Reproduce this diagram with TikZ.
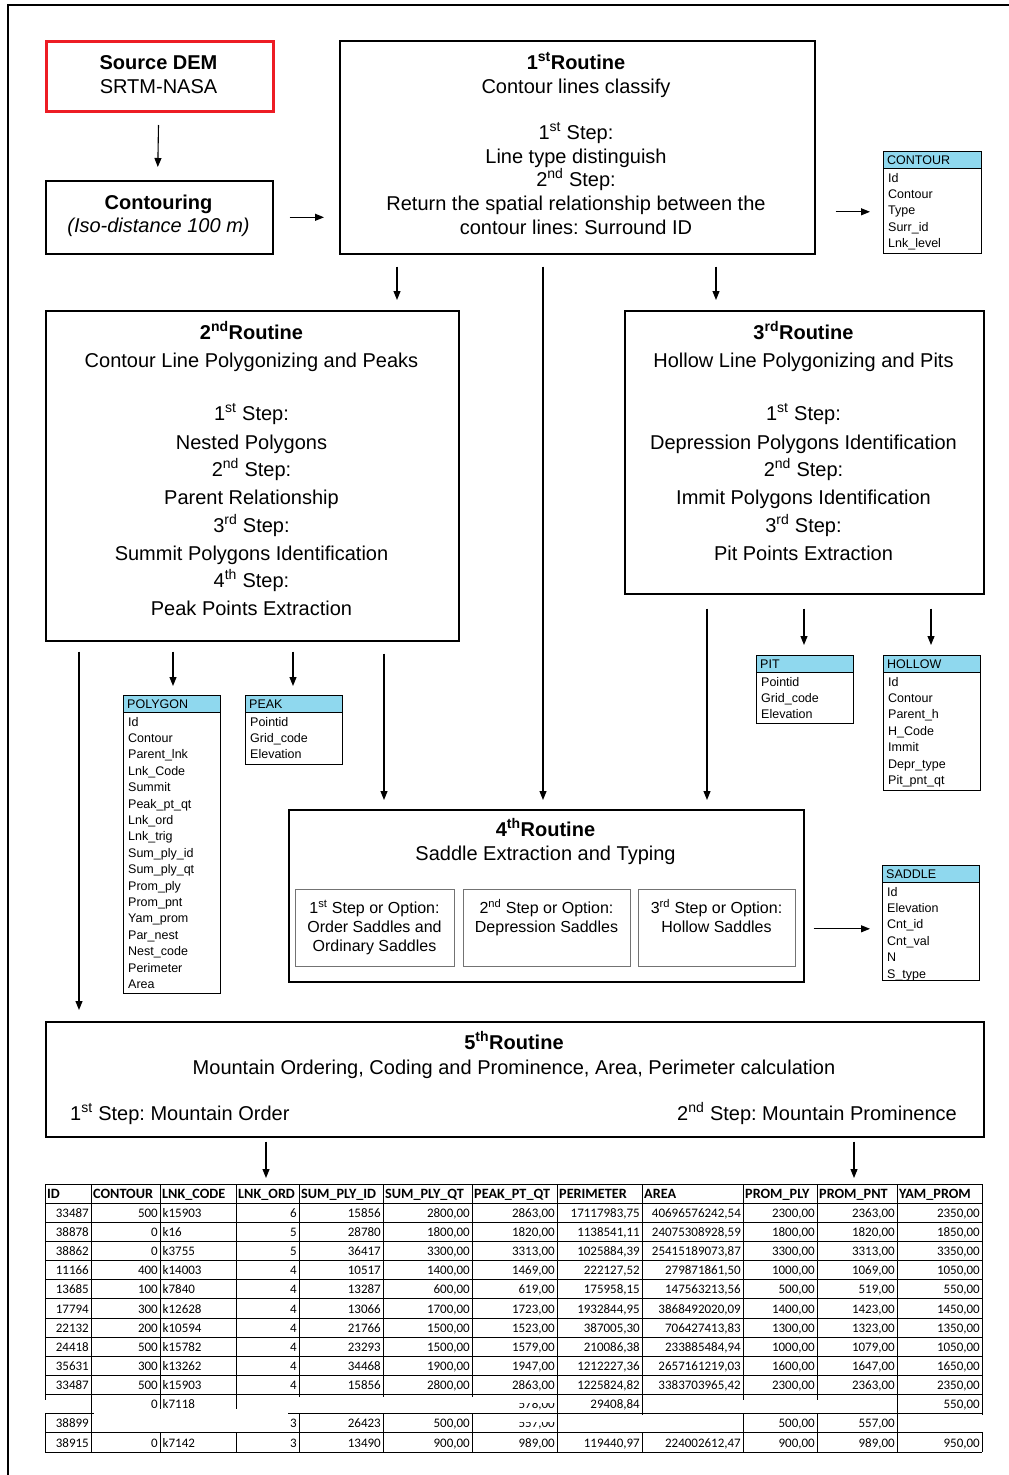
\documentclass[tikz,border=0pt]{standalone}
\usepackage{fontspec}
\setmainfont{Liberation Sans}
\newfontfamily\tabf{Carlito}
\usetikzlibrary{calc,arrows.meta}
\definecolor{hdr}{RGB}{143,216,238}
\definecolor{demred}{RGB}{237,28,36}
\frenchspacing
\newcommand\fbig{\fontsize{20}{24}\selectfont}
\newcommand\fmid{\fontsize{16}{19}\selectfont}
\newcommand\fsml{\fontsize{12.5}{15}\selectfont}
\newcommand\ftab{\tabf\fontsize{13}{15}\selectfont}
\newcommand\fhead{\tabf\bfseries\fontsize{14.2}{16}\selectfont}
\newcommand\schemab[7]{%
  \node[shead, minimum width=#4, anchor=north west] (#1h) at (#2,#3) {};
  \node[stitle] (#1t) at ($(#1h.west)+(4,0)$) {#6};
  \node[sframe, minimum width=#4, minimum height=#5, anchor=north west] (#1) at (#2,#3) {};
  \foreach \r [count=\i] in {#7} {\node[srow] (#1r\i) at (#2+5,#3+31+16.4*\i-16.4) {\r};}
}
\newcommand\trow[2]{%
  \foreach \v [count=\j] in {#2} {
    \pgfmathsetmacro\yb{1184+19.143*#1+14.2}
    \ifnum\j=3
      \node[tcell, anchor=base west] (c#1-\j) at (162.5,\yb) {\v};
    \else
      \pgfmathsetmacro\xr{{91,160,236,299,383,472,557,642,743,817,897,982}[\j-1]-2}
      \node[tcell, anchor=base east] (c#1-\j) at (\xr,\yb) {\v};
    \fi
  }}
\begin{document}
\begin{tikzpicture}[x=1pt,y=-1pt,
  box/.style={draw, line width=1.6, inner sep=0},
  redbox/.style={draw=demred, line width=3, inner sep=0},
  optbox/.style={draw=black!55, line width=0.9, inner sep=0},
  ln/.style={anchor=base, inner sep=0, font=\fbig},
  lnm/.style={anchor=base, inner sep=0, font=\fmid},
  shead/.style={draw, fill=hdr, line width=0.8, minimum height=17, inner sep=0},
  stitle/.style={anchor=west, inner sep=0, font=\fsml},
  sframe/.style={draw, line width=0.9, inner sep=0},
  srow/.style={anchor=base west, inner sep=0, font=\fsml},
  tcell/.style={inner sep=0, font=\ftab},
  thead/.style={anchor=base west, inner sep=0, font=\fhead},
  grid/.style={line width=0.9},
  arr/.style={line width=1.1, -{Triangle[length=9,width=7]}}]
\useasboundingbox (0,0) rectangle (1009,1475);
\fill[white] (0,0) rectangle (1009,1475);
% outer frame
\draw[line width=2] (8,1480) -- (8,5) -- (1015,5);

% boxes
\node[redbox, minimum width=227, minimum height=70, anchor=north west] (src) at (45,40) {};
\node[ln] (srcl1) at (158.5,69) {\textbf{Source DEM}};
\node[ln] (srcl2) at (158.5,93) {SRTM-NASA};

\node[box, minimum width=227, minimum height=73, anchor=north west] (cont) at (45,180) {};
\node[ln] (contl1) at (158.5,209) {\textbf{Contouring}};
\node[ln] (contl2) at (158.5,232) {\textit{(Iso-distance 100 m)}};

\node[box, minimum width=475, minimum height=213, anchor=north west] (r1) at (339,40) {};
\foreach \t/\y [count=\i] in {
  {\textbf{1\textsuperscript{st}Routine}}/62,
  Contour lines classify/86,
  {1\textsuperscript{st} Step:}/132,
  Line type distinguish/156,
  {2\textsuperscript{nd} Step:}/179,
  Return the spatial relationship between the/203,
  contour lines: Surround ID/227}
  \node[ln] (r1l\i) at (576,\y+7) {\t};

\node[box, minimum width=413, minimum height=330, anchor=north west] (r2) at (45,310) {};
\foreach \t/\y [count=\i] in {
  {\textbf{2\textsuperscript{nd}Routine}}/332,
  Contour Line Polygonizing and Peaks/360,
  {1\textsuperscript{st} Step:}/413,
  Nested Polygons/442,
  {2\textsuperscript{nd} Step:}/469,
  Parent Relationship/497,
  {3\textsuperscript{rd} Step:}/525,
  Summit Polygons Identification/553,
  {4\textsuperscript{th} Step:}/580,
  Peak Points Extraction/608}
  \node[ln] (r2l\i) at (251.5,\y+7) {\t};

\node[box, minimum width=359, minimum height=283, anchor=north west] (r3) at (624,310) {};
\foreach \t/\y [count=\i] in {
  {\textbf{3\textsuperscript{rd}Routine}}/332,
  Hollow Line Polygonizing and Pits/360,
  {1\textsuperscript{st} Step:}/413,
  Depression Polygons Identification/442,
  {2\textsuperscript{nd} Step:}/469,
  Immit Polygons Identification/497,
  {3\textsuperscript{rd} Step:}/525,
  Pit Points Extraction/553}
  \node[ln] (r3l\i) at (803.5,\y+7) {\t};

\node[box, minimum width=515, minimum height=172, anchor=north west] (r4) at (288,809) {};
\node[ln] (r4l1) at (545.5,836) {\textbf{4\textsuperscript{th}Routine}};
\node[ln] (r4l2) at (545.5,860) {Saddle Extraction and Typing};
\node[optbox, minimum width=159, minimum height=77, anchor=north west] (o1) at (295,889) {};
\node[optbox, minimum width=167, minimum height=77, anchor=north west] (o2) at (463,889) {};
\node[optbox, minimum width=157, minimum height=77, anchor=north west] (o3) at (638,889) {};
\node[lnm] (o1l1) at (374.5,913.5) {1\textsuperscript{st} Step or Option:};
\node[lnm] (o1l2) at (374.5,932.5) {Order Saddles and};
\node[lnm] (o1l3) at (374.5,951.5) {Ordinary Saddles};
\node[lnm] (o2l1) at (546.5,913.5) {2\textsuperscript{nd} Step or Option:};
\node[lnm] (o2l2) at (546.5,932.5) {Depression Saddles};
\node[lnm] (o3l1) at (716.5,913.5) {3\textsuperscript{rd} Step or Option:};
\node[lnm] (o3l2) at (716.5,932.5) {Hollow Saddles};

\node[box, minimum width=938, minimum height=115, anchor=north west] (r5) at (45,1021) {};
\node[ln] (r5l1) at (514,1049) {\textbf{5\textsuperscript{th}Routine}};
\node[ln] (r5l2) at (514,1074) {Mountain Ordering, Coding and Prominence, Area, Perimeter calculation};
\node[ln, anchor=base west] (r5l3) at (70,1120) {1\textsuperscript{st} Step: Mountain Order};
\node[ln, anchor=base east] (r5l4) at (957,1120) {2\textsuperscript{nd} Step: Mountain Prominence};

% schema tables
\schemab{ctr}{883}{151}{98}{102}{CONTOUR}{Id,Contour,Type,Surr\_id,Lnk\_level}
\schemab{poly}{123}{695}{97}{298}{POLYGON}{Id,Contour,Parent\_lnk,Lnk\_Code,Summit,Peak\_pt\_qt,Lnk\_ord,Lnk\_trig,Sum\_ply\_id,Sum\_ply\_qt,Prom\_ply,Prom\_pnt,Yam\_prom,Par\_nest,Nest\_code,Perimeter,Area}
\schemab{peak}{245}{695}{97}{69}{PEAK}{Pointid,Grid\_code,Elevation}
\schemab{pit}{756}{655}{97}{68}{PIT}{Pointid,Grid\_code,Elevation}
\schemab{hol}{883}{655}{97}{135}{HOLLOW}{Id,Contour,Parent\_h,H\_Code,Immit,Depr\_type,Pit\_pnt\_qt}
\schemab{sad}{882}{865}{97}{115}{SADDLE}{Id,Elevation,Cnt\_id,Cnt\_val,N,S\_type}

% arrows
\draw[arr] ($(src.south)+(-1.5,12)$) -- ($(cont.north)+(-1.5,-13)$);
\draw[arr] ($(cont.east)+(16,0)$) -- ($(cont.east -| r1.west)+(-15,0)$);
\draw[arr] ($(r1.east)+(20,64.5)$) -- ($(r1.east -| ctr.west)+(-13,64.5)$);
\draw[arr] ($(r1.south west)+(58,12)$) -- ($(r1.south west |- r2.north)+(58,-10)$);
\draw[arr] ($(r1.south west)+(377,12)$) -- ($(r1.south west |- r3.north)+(377,-10)$);
\draw[arr] ($(r1.south west)+(204,12)$) -- ($(r1.south west |- r4.north)+(204,-9)$);
\draw[arr] ($(r2.south west)+(34,10)$) -- ($(r2.south west |- r5.north)+(34,-11)$);
\draw[arr] ($(r2.south west)+(128,10)$) -- ($(r2.south west |- poly.north)+(128,-9)$);
\draw[arr] ($(r2.south west)+(248,10)$) -- ($(r2.south west |- peak.north)+(248,-9)$);
\draw[arr] ($(r2.south west)+(339,12)$) -- ($(r2.south west |- r4.north)+(339,-9)$);
\draw[arr] ($(r3.south west)+(180,14)$) -- ($(r3.south west |- pit.north)+(180,-10)$);
\draw[arr] ($(r3.south west)+(307,14)$) -- ($(r3.south west |- hol.north)+(307,-10)$);
\draw[arr] ($(r3.south west)+(83,14)$) -- ($(r3.south west |- r4.north)+(83,-9)$);
\draw[arr] ($(r4.east)+(9,33)$) -- ($(r4.east -| sad.west)+(-12,33)$);

% data table
\node[inner sep=0, minimum width=937, minimum height=268, anchor=north west] (tab) at (45,1184) {};
\draw[arr] ($(r5.south west)+(221,4)$) -- ($(r5.south west |- tab.north)+(221,-6)$);
\draw[arr] ($(r5.south west)+(809,4)$) -- ($(r5.south west |- tab.north)+(809,-6)$);
\foreach \x in {45,91,160,236,299,383,472,557,642,743,817,897,982}
  \draw[grid] (\x,1184) -- (\x,1452);
\foreach \i in {0,...,14}
  \draw[grid] (45,1184+19.143*\i) -- (982,1184+19.143*\i);
\foreach \h/\xl [count=\j] in {ID/47,CONTOUR/93,LNK\_CODE/162,LNK\_ORD/238,SUM\_PLY\_ID/301,SUM\_PLY\_QT/385,PEAK\_PT\_QT/474,PERIMETER/559,AREA/644,PROM\_PLY/745,PROM\_PNT/819,YAM\_PROM/899}
  \node[thead] (h\j) at (\xl,1198.4) {\h};
\trow{1}{33487,500,k15903,6,15856,{2800,00},{2863,00},{17117983,75},{40696576242,54},{2300,00},{2363,00},{2350,00}}
\trow{2}{38878,0,k16,5,28780,{1800,00},{1820,00},{1138541,11},{24075308928,59},{1800,00},{1820,00},{1850,00}}
\trow{3}{38862,0,k3755,5,36417,{3300,00},{3313,00},{1025884,39},{25415189073,87},{3300,00},{3313,00},{3350,00}}
\trow{4}{11166,400,k14003,4,10517,{1400,00},{1469,00},{222127,52},{279871861,50},{1000,00},{1069,00},{1050,00}}
\trow{5}{13685,100,k7840,4,13287,{600,00},{619,00},{175958,15},{147563213,56},{500,00},{519,00},{550,00}}
\trow{6}{17794,300,k12628,4,13066,{1700,00},{1723,00},{1932844,95},{3868492020,09},{1400,00},{1423,00},{1450,00}}
\trow{7}{22132,200,k10594,4,21766,{1500,00},{1523,00},{387005,30},{706427413,83},{1300,00},{1323,00},{1350,00}}
\trow{8}{24418,500,k15782,4,23293,{1500,00},{1579,00},{210086,38},{233885484,94},{1000,00},{1079,00},{1050,00}}
\trow{9}{35631,300,k13262,4,34468,{1900,00},{1947,00},{1212227,36},{2657161219,03},{1600,00},{1647,00},{1650,00}}
\trow{10}{33487,500,k15903,4,15856,{2800,00},{2863,00},{1225824,82},{3383703965,42},{2300,00},{2363,00},{2350,00}}
\trow{11}{\relax,0,k7118,3,\relax,\relax,{578,00},{29408,84},\relax,\relax,\relax,{550,00}}
\trow{12}{38899,\relax,\relax,3,26423,{500,00},{557,00},\relax,\relax,{500,00},{557,00},\relax}
\trow{13}{38915,0,k7142,3,13490,{900,00},{989,00},{119440,97},{224002612,47},{900,00},{989,00},{950,00}}
% occluded parts of the table
\fill[white] (41,1400) rectangle (89.5,1413);
\fill[white] (94,1409) rectangle (288,1431.5);
\fill[white] (238,1396.5) rectangle (505,1413);
\fill[white] (495,1395.5) rectangle (555,1403);
\fill[white] (480,1414.5) rectangle (555,1422);
\fill[white] (558.5,1414.5) rectangle (665,1431.5);
\fill[white] (645,1400) rectangle (895,1413.2);
\fill[white] (898,1414.5) rectangle (986,1431.5);
\end{tikzpicture}
\end{document}
